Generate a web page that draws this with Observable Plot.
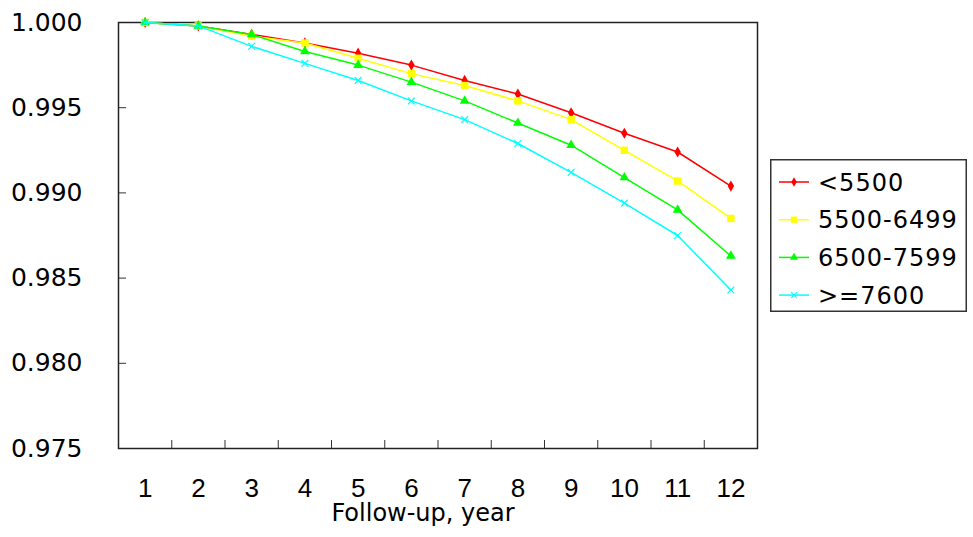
<!DOCTYPE html>
<html>
<head>
<meta charset="utf-8">
<script src="https://cdn.jsdelivr.net/npm/d3@7"></script>
<script src="https://cdn.jsdelivr.net/npm/@observablehq/plot@0.6"></script>
<style>
  html, body { margin: 0; padding: 0; background: #fff; }
  #wrap { position: relative; width: 973px; height: 537px; }
  #legend { position: absolute; left: 770px; top: 159px; }
</style>
</head>
<body>
<div id="wrap"><div id="chart"></div><div id="legend"></div></div>
<script>
const years = [1, 2, 3, 4, 5, 6, 7, 8, 9, 10, 11, 12];
const seriesNames = ["<5500", "5500-6499", "6500-7599", ">=7600"];
const lt5500   = [1.0000, 0.9998, 0.9993, 0.9988, 0.9982, 0.9975, 0.9966, 0.9958, 0.9947, 0.9935, 0.9924, 0.9904];
const s5500_6499 = [1.0000, 0.9998, 0.9992, 0.9988, 0.9979, 0.9970, 0.9963, 0.9954, 0.9943, 0.9925, 0.9907, 0.9885];
const s6500_7599 = [1.0000, 0.9998, 0.9993, 0.9983, 0.9975, 0.9965, 0.9954, 0.9941, 0.9928, 0.9909, 0.9890, 0.9863];
const ge7600   = [1.0000, 0.9998, 0.9986, 0.9976, 0.9966, 0.9954, 0.9943, 0.9929, 0.9912, 0.9894, 0.9875, 0.9843];
const yTicks = [0.975, 0.980, 0.985, 0.990, 0.995, 1.000];
const xTitle = "Follow-up, year";

const colors = ["#ff0000", "#ffff00", "#00ff00", "#00ffff"];
const symbols = ["diamond", "square", "triangle", "times"];
const radii = [3.4, 4.2, 3.6, 3.2];
const allValues = [lt5500, s5500_6499, s6500_7599, ge7600];

const data = [];
allValues.forEach((vals, si) => vals.forEach((v, i) => data.push({series: seriesNames[si], year: years[i], value: v})));

const bounds = years.slice(0, -1).map(y => y + 0.5);

const marks = [];
seriesNames.forEach((name, si) => {
  const d = data.filter(r => r.series === name);
  marks.push(Plot.line(d, {x: "year", y: "value", stroke: colors[si], strokeWidth: 1.5}));
  const sym = symbols[si];
  const stroked = sym === "times";
  marks.push(Plot.dot(d, {x: "year", y: "value", symbol: () => sym, r: radii[si],
    fill: stroked ? "none" : colors[si], stroke: stroked ? colors[si] : "none", strokeWidth: stroked ? 1.2 : 0}));
});

const chart = Plot.plot({
  width: 973,
  height: 537,
  marginLeft: 118,
  marginRight: 216,
  marginTop: 22,
  marginBottom: 89,
  style: {fontFamily: "DejaVu Sans", background: "#fff", color: "#000"},
  x: {type: "linear", domain: [0.5, 12.5]},
  y: {domain: [0.975, 1.0]},
  symbol: {type: "identity"},
  marks: [
    Plot.axisY(yTicks, {tickSize: 0, tickPadding: 36, tickFormat: d3.format(".3f"), fontSize: 25, label: null, fill: "#000"}),
    Plot.axisY(yTicks, {tickSize: -8, tickFormat: () => "", label: null, stroke: "#333"}),
    Plot.axisX(years, {tickSize: 0, tickPadding: 30, tickFormat: d3.format("d"), fontSize: 26, fontFamily: "Liberation Sans", label: null, fill: "#000"}),
    Plot.axisX(bounds, {tickSize: -8, tickFormat: () => "", label: null, stroke: "#333"}),
    Plot.frame({stroke: "#222", strokeWidth: 1.5}),
    ...marks,
    Plot.text([xTitle], {frameAnchor: "bottom", text: d => d, dy: 65, dx: -15, fontSize: 24, fill: "#000", lineAnchor: "middle", letterSpacing: 0.4})
  ]
});
document.getElementById("chart").appendChild(chart);

// Legend
const lw = 197, lh = 153;
const legend = d3.select("#legend").append("svg").attr("width", lw).attr("height", lh)
  .style("font-family", "DejaVu Sans");
legend.append("rect").attr("x", 0.75).attr("y", 0.75).attr("width", lw - 1.5).attr("height", lh - 1.5)
  .attr("fill", "#fff").attr("stroke", "#333").attr("stroke-width", 1.5);
const d3sym = {diamond: d3.symbolDiamond, square: d3.symbolSquare, triangle: d3.symbolTriangle, times: d3.symbolTimes};
seriesNames.forEach((name, si) => {
  const cy = 23 + si * 37.7;
  const g = legend.append("g").attr("transform", `translate(0,${cy})`);
  g.append("line").attr("x1", 9).attr("x2", 39).attr("y1", 0).attr("y2", 0)
    .attr("stroke", colors[si]).attr("stroke-width", 1.5);
  const stroked = symbols[si] === "times";
  g.append("path").attr("transform", "translate(24,0)")
    .attr("d", d3.symbol(d3sym[symbols[si]], Math.PI * radii[si] * radii[si] * 0.7)())
    .attr("fill", stroked ? "none" : colors[si]).attr("stroke", stroked ? colors[si] : "none").attr("stroke-width", 1.2);
  g.append("text").attr("x", 48).attr("y", 0).attr("dy", "0.36em").attr("font-size", 24)
    .attr("letter-spacing", 1).attr("fill", "#000").text(name);
});
</script>
</body>
</html>
